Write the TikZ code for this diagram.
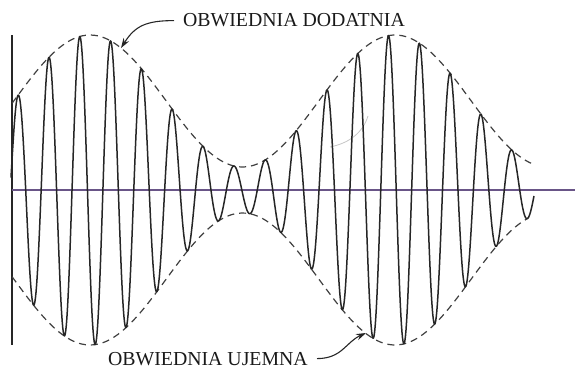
\documentclass[tikz,border=0pt]{standalone}
\usepackage{fontspec}
\setmainfont{Liberation Serif}
\usetikzlibrary{arrows.meta}
\definecolor{axiscol}{RGB}{105,85,135}
\begin{document}
\begin{tikzpicture}[x=1pt,y=-1pt,
  wave/.style={line width=1.5pt, draw=black!85, line join=round},
  envl/.style={line width=1.2pt, draw=black!75, dash pattern=on 7pt off 5pt},
  axisline/.style={line width=1.3pt},
  lbl/.style={font=\fontsize{19.8}{22}\selectfont, text=black!90, inner ysep=1pt, inner xsep=9pt},
  pointer/.style={line width=1.1pt, draw=black!85, -{Stealth[length=10pt,width=6.5pt]}}]
\useasboundingbox (0,0) rectangle (575,372);
% axes
\coordinate (vtop) at (12,35);
\coordinate (vbot) at (12,345);
\coordinate (h0) at (12,190);
\coordinate (h1) at (575,190);
\draw[axisline, black!85] (vtop) -- (vbot);
\draw[axisline, axiscol] (h0) -- (h1);
% faint stray arc
\draw[gray!45, line width=0.8pt] (330,147) .. controls (350,143) and (363,132) .. (368,116);
% envelopes
\draw[envl] plot[domain=12:533, samples=120, smooth] (\x,{190-(89+66*cos((\x-90)/305*360))});
\draw[envl] plot[domain=12:527, samples=120, smooth] (\x,{190+(89+66*cos((\x-90)/305*360))});
% modulated carrier
\draw[wave] plot[domain=11:534, samples=900] (\x,{190-(89+66*cos((\x-90)/305*360))*cos((\x-18)/30.875*360)});
% labels
\node[lbl, anchor=base west] (pos) at (174,27) {OBWIEDNIA DODATNIA};
\node[lbl, anchor=base east] (neg) at (317,365) {OBWIEDNIA UJEMNA};
\coordinate (tipP) at (121,48);
\coordinate (tipN) at (366,333);
\draw[pointer] (pos.west) .. controls +(-28,0) and +(14,-22) .. (tipP);
\draw[pointer] (neg.east) .. controls +(25,0) and +(-20,9) .. (tipN);
\end{tikzpicture}
\end{document}
